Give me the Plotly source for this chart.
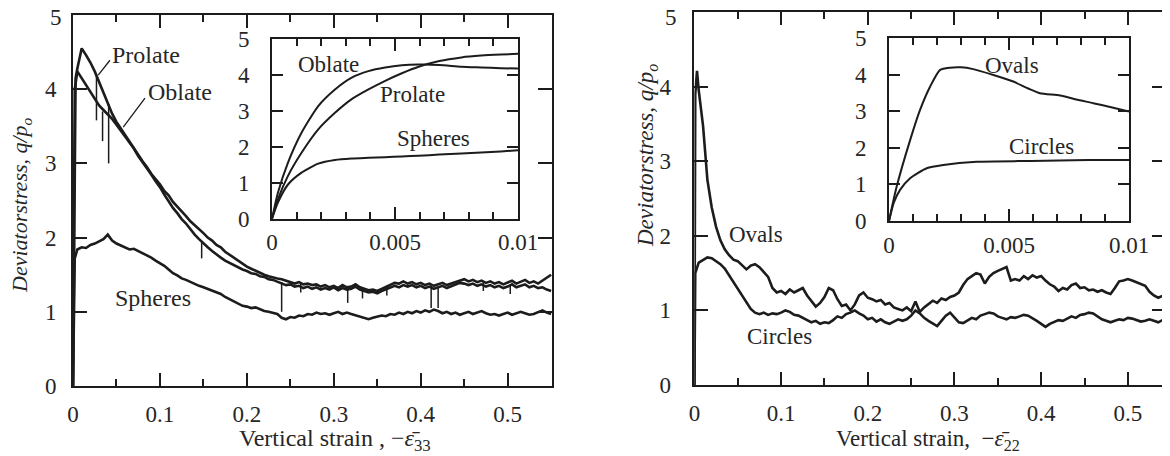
import plotly.graph_objects as go

# ---------------- LEFT PANEL : 3-D assemblies (main plot) ----------------
STRAIN_L = [round(0.005 * i, 3) for i in range(1, 111)]

PROLATE_HEAD_X = [0.0, 0.003]
PROLATE_HEAD_Y = [0.0, 4.15]
PROLATE_Y = [
    4.28, 4.55, 4.46, 4.36, 4.24, 4.10, 3.95, 3.80, 3.67, 3.56,
    3.47, 3.38, 3.30, 3.20, 3.12, 3.03, 2.95, 2.86, 2.79, 2.72,
    2.63, 2.57, 2.48, 2.42, 2.35, 2.29, 2.22, 2.17, 2.11, 2.06,
    2.00, 1.96, 1.90, 1.87, 1.81, 1.77, 1.72, 1.69, 1.65, 1.61,
    1.58, 1.55, 1.53, 1.50, 1.48, 1.46, 1.45, 1.44, 1.42, 1.41,
    1.38, 1.40, 1.37, 1.38, 1.36, 1.37, 1.34, 1.36, 1.33, 1.35,
    1.32, 1.36, 1.33, 1.34, 1.37, 1.33, 1.31, 1.29, 1.30, 1.28,
    1.31, 1.34, 1.36, 1.39, 1.38, 1.41, 1.38, 1.40, 1.37, 1.39,
    1.36, 1.38, 1.35, 1.37, 1.39, 1.36, 1.38, 1.41, 1.43, 1.44,
    1.41, 1.43, 1.40, 1.42, 1.39, 1.41, 1.38, 1.40, 1.37, 1.39,
    1.42, 1.38, 1.40, 1.43, 1.39, 1.41, 1.38, 1.42, 1.46, 1.50,
]
# sharp downward drops (strain, value before drop, lowest value)
PROLATE_SPIKE_X = [0.027, 0.041, 0.262, 0.316, 0.361, 0.412, 0.472]
PROLATE_SPIKE_TOP = [4.19, 3.80, 1.39, 1.34, 1.35, 1.37, 1.41]
PROLATE_SPIKE_LOW = [3.58, 3.00, 1.26, 1.12, 1.22, 1.05, 1.28]

OBLATE_HEAD_X = [0.0, 0.002]
OBLATE_HEAD_Y = [0.0, 4.0]
OBLATE_Y = [
    4.24, 4.15, 4.05, 3.96, 3.87, 3.78, 3.72, 3.66, 3.60, 3.52,
    3.44, 3.37, 3.28, 3.20, 3.10, 3.02, 2.93, 2.85, 2.76, 2.68,
    2.58, 2.48, 2.40, 2.33, 2.25, 2.19, 2.11, 2.04, 1.98, 1.92,
    1.87, 1.82, 1.77, 1.73, 1.69, 1.66, 1.62, 1.60, 1.57, 1.55,
    1.52, 1.51, 1.48, 1.47, 1.44, 1.43, 1.41, 1.38, 1.36, 1.37,
    1.34, 1.35, 1.32, 1.34, 1.31, 1.33, 1.30, 1.32, 1.30, 1.33,
    1.29, 1.32, 1.30, 1.31, 1.34, 1.30, 1.28, 1.26, 1.27, 1.25,
    1.28, 1.30, 1.33, 1.35, 1.33, 1.36, 1.34, 1.36, 1.33, 1.35,
    1.32, 1.34, 1.31, 1.33, 1.35, 1.32, 1.34, 1.37, 1.39, 1.38,
    1.36, 1.38, 1.35, 1.37, 1.34, 1.36, 1.33, 1.35, 1.32, 1.34,
    1.37, 1.33, 1.35, 1.37, 1.33, 1.35, 1.32, 1.33, 1.30, 1.28,
]
OBLATE_SPIKE_X = [0.034, 0.148, 0.240, 0.333, 0.420, 0.503]
OBLATE_SPIKE_TOP = [3.70, 1.95, 1.40, 1.31, 1.33, 1.36]
OBLATE_SPIKE_LOW = [3.30, 1.72, 1.00, 1.18, 1.05, 1.24]

SPHERES_HEAD_X = [0.0, 0.002]
SPHERES_HEAD_Y = [0.0, 1.72]
SPHERES_Y = [
    1.84, 1.87, 1.86, 1.90, 1.92, 1.95, 1.98, 2.04, 1.96, 1.92,
    1.89, 1.86, 1.84, 1.85, 1.82, 1.80, 1.76, 1.73, 1.69, 1.66,
    1.62, 1.57, 1.52, 1.49, 1.45, 1.43, 1.40, 1.38, 1.35, 1.33,
    1.31, 1.29, 1.26, 1.24, 1.20, 1.17, 1.13, 1.10, 1.08, 1.07,
    1.05, 1.06, 1.03, 1.01, 1.00, 0.99, 0.97, 0.92, 0.90, 0.93,
    0.92, 0.95, 0.94, 0.97, 0.96, 0.99, 0.97, 0.98, 0.96, 0.98,
    1.00, 0.97, 0.99, 0.97, 0.95, 0.93, 0.92, 0.90, 0.92, 0.93,
    0.95, 0.94, 0.97, 0.96, 0.99, 0.97, 1.00, 0.98, 1.01, 0.99,
    1.02, 1.00, 1.03, 1.01, 0.98, 1.00, 0.97, 0.99, 0.96, 0.98,
    1.00, 0.97, 0.99, 1.01, 0.98, 0.96, 0.97, 0.95, 0.97, 0.99,
    0.96, 0.98, 1.00, 0.98, 0.96, 0.97, 1.00, 1.02, 0.99, 0.97,
]

# ---------------- LEFT PANEL : inset (small strains) ----------------
INSET_L_X = [0.0, 0.00024, 0.00065, 0.0012, 0.00188, 0.00256, 0.00324, 0.00392,
             0.0046, 0.00528, 0.00596, 0.0068, 0.0077, 0.0085, 0.0093, 0.01]
INSET_OBLATE_Y = [0.0, 0.72, 1.56, 2.39, 3.13, 3.59, 3.92, 4.10,
                  4.20, 4.26, 4.28, 4.27, 4.22, 4.20, 4.18, 4.17]
INSET_PROLATE_Y = [0.0, 0.54, 1.19, 1.83, 2.48, 2.94, 3.32, 3.59,
                   3.83, 4.04, 4.22, 4.38, 4.48, 4.53, 4.56, 4.58]
INSET_SPHERES_Y = [0.0, 0.45, 0.95, 1.28, 1.53, 1.63, 1.67, 1.69,
                   1.71, 1.73, 1.75, 1.78, 1.81, 1.84, 1.87, 1.90]

# ---------------- RIGHT PANEL : 2-D assemblies (main plot) ----------------
STRAIN_R = [round(0.005 * i, 3) for i in range(1, 110)]

OVALS_HEAD_X = [0.0, 0.001, 0.003]
OVALS_HEAD_Y = [0.0, 3.9, 4.21]
OVALS_Y = [
    3.95, 3.47, 2.75, 2.38, 2.12, 1.94, 1.82, 1.74, 1.68, 1.66,
    1.60, 1.55, 1.60, 1.62, 1.58, 1.52, 1.45, 1.30, 1.24, 1.26,
    1.22, 1.28, 1.24, 1.27, 1.30, 1.20, 1.12, 1.05, 1.10, 1.18,
    1.30, 1.27, 1.15, 1.06, 1.08, 1.00, 1.08, 1.20, 1.24, 1.17,
    1.15, 1.12, 1.14, 1.08, 1.10, 1.04, 1.02, 1.00, 1.04, 0.99,
    1.12, 0.98, 1.04, 1.08, 1.13, 1.10, 1.16, 1.14, 1.18, 1.20,
    1.24, 1.34, 1.42, 1.46, 1.50, 1.48, 1.36, 1.45, 1.50, 1.53,
    1.55, 1.58, 1.40, 1.42, 1.40, 1.46, 1.42, 1.47, 1.44, 1.46,
    1.40, 1.35, 1.32, 1.26, 1.30, 1.28, 1.34, 1.36, 1.30, 1.31,
    1.27, 1.28, 1.25, 1.27, 1.24, 1.22, 1.30, 1.39, 1.40, 1.42,
    1.40, 1.38, 1.35, 1.33, 1.25, 1.20, 1.17, 1.20, 1.22,
]

CIRCLES_HEAD_X = [0.0, 0.001]
CIRCLES_HEAD_Y = [0.0, 1.5]
CIRCLES_Y = [
    1.64, 1.68, 1.71, 1.70, 1.66, 1.62, 1.56, 1.47, 1.38, 1.28,
    1.20, 1.10, 1.02, 0.97, 0.95, 0.97, 0.94, 0.96, 0.95, 0.97,
    1.00, 0.98, 0.94, 0.93, 0.90, 0.86, 0.84, 0.86, 0.82, 0.84,
    0.83, 0.87, 0.92, 0.90, 0.95, 0.97, 1.00, 0.96, 0.93, 0.88,
    0.90, 0.85, 0.88, 0.84, 0.82, 0.85, 0.88, 0.86, 0.88, 0.93,
    1.00, 0.96, 0.90, 0.86, 0.82, 0.79, 0.86, 0.93, 0.97, 0.90,
    0.84, 0.83, 0.87, 0.90, 0.88, 0.93, 0.95, 0.97, 0.96, 0.92,
    0.90, 0.88, 0.91, 0.90, 0.92, 0.94, 0.93, 0.90, 0.86, 0.82,
    0.78, 0.82, 0.85, 0.87, 0.86, 0.89, 0.92, 0.90, 0.94, 0.95,
    0.97, 0.96, 0.92, 0.88, 0.86, 0.84, 0.86, 0.88, 0.87, 0.90,
    0.89, 0.87, 0.85, 0.86, 0.88, 0.86, 0.84, 0.87, 0.90,
]

# ---------------- RIGHT PANEL : inset ----------------
INSET_OVALS_X = [0.0, 0.00032, 0.00088, 0.00129, 0.00171, 0.00213, 0.00254, 0.003,
                 0.00351, 0.00435, 0.00518, 0.0058, 0.00629, 0.00713, 0.0078,
                 0.00851, 0.0093, 0.01]
INSET_OVALS_Y = [0.0, 0.94, 2.21, 3.03, 3.67, 4.13, 4.19, 4.20,
                 4.15, 3.99, 3.81, 3.62, 3.49, 3.43, 3.32, 3.22, 3.10, 2.99]
INSET_CIRCLES_X = [0.0, 0.0002, 0.00046, 0.00088, 0.00157, 0.00226, 0.00365,
                   0.0059, 0.0083, 0.01]
INSET_CIRCLES_Y = [0.0, 0.5, 0.85, 1.17, 1.44, 1.53, 1.62, 1.64, 1.67, 1.67]

assert len(PROLATE_Y) == len(STRAIN_L) == len(OBLATE_Y) == len(SPHERES_Y)
assert len(OVALS_Y) == len(STRAIN_R) == len(CIRCLES_Y)

W, H = 1170, 456
OFF = 8  # the page body adds an 8 px margin around the figure
FONT = "Liberation Serif, Times New Roman, Times, serif"
INK = "#1c1c1c"
TXT = "#262626"


def px_x(v):
    return (v - OFF) / W


def px_y(v):
    return 1 - (v - OFF) / H


def series(hx, hy, gx, gy):
    return list(hx) + list(gx), list(hy) + list(gy)


fig = go.Figure()


def add_line(x, y, xa, ya, width, spline=False):
    fig.add_trace(go.Scatter(
        x=x, y=y, xaxis=xa, yaxis=ya, mode="lines",
        line=dict(color=INK, width=width,
                  shape="spline" if spline else "linear", smoothing=0.6),
        showlegend=False, hoverinfo="skip", connectgaps=False))


def add_spikes(sx, top, low, xa, ya):
    xs, ys = [], []
    for a, t, b in zip(sx, top, low):
        xs += [a, a, None]
        ys += [t, b, None]
    add_line(xs, ys, xa, ya, 1.5)


# left main
for hx, hy, gy in [(PROLATE_HEAD_X, PROLATE_HEAD_Y, PROLATE_Y),
                   (OBLATE_HEAD_X, OBLATE_HEAD_Y, OBLATE_Y),
                   (SPHERES_HEAD_X, SPHERES_HEAD_Y, SPHERES_Y)]:
    xx, yy = series(hx, hy, STRAIN_L, gy)
    add_line(xx, yy, "x", "y", 2.6)
add_spikes(PROLATE_SPIKE_X, PROLATE_SPIKE_TOP, PROLATE_SPIKE_LOW, "x", "y")
add_spikes(OBLATE_SPIKE_X, OBLATE_SPIKE_TOP, OBLATE_SPIKE_LOW, "x", "y")

# left inset
for yy in [INSET_OBLATE_Y, INSET_PROLATE_Y, INSET_SPHERES_Y]:
    add_line(INSET_L_X, yy, "x2", "y2", 2.0, spline=True)

# right main
for hx, hy, gy in [(OVALS_HEAD_X, OVALS_HEAD_Y, OVALS_Y),
                   (CIRCLES_HEAD_X, CIRCLES_HEAD_Y, CIRCLES_Y)]:
    xx, yy = series(hx, hy, STRAIN_R, gy)
    add_line(xx, yy, "x3", "y3", 2.6)

# right inset
add_line(INSET_OVALS_X, INSET_OVALS_Y, "x4", "y4", 2.0, spline=True)
add_line(INSET_CIRCLES_X, INSET_CIRCLES_Y, "x4", "y4", 2.0, spline=True)

tickfont = dict(family=FONT, size=23, color=TXT)


def xax(dom, anchor, rng, tickvals, ticktext, minor_dtick, ticklen, minor_len, standoff):
    return dict(domain=[px_x(dom[0]), px_x(dom[1])], anchor=anchor, range=rng,
                tickmode="array", tickvals=tickvals, ticktext=ticktext,
                ticks="inside", ticklen=ticklen, tickwidth=1.8, tickcolor=INK,
                minor=dict(dtick=minor_dtick, tick0=0, ticks="inside", ticklen=minor_len,
                           tickwidth=1.6, tickcolor=INK, showgrid=False),
                showline=True, linewidth=1.8, linecolor=INK, mirror="ticks",
                showgrid=False, zeroline=False, tickfont=tickfont, automargin=False,
                ticklabelstandoff=standoff, ticklabeloverflow="allow", fixedrange=True)


def yax(dom, anchor, ticklen, standoff, ticktext):
    return dict(domain=[px_y(dom[1]), px_y(dom[0])], anchor=anchor, range=[0, 5],
                tickmode="array", tickvals=[0, 1, 2, 3, 4, 5], ticktext=ticktext,
                ticks="inside", ticklen=ticklen, tickwidth=1.8, tickcolor=INK,
                showline=True, linewidth=1.8, linecolor=INK, mirror="ticks",
                showgrid=False, zeroline=False, tickfont=tickfont, automargin=False,
                ticklabelstandoff=standoff, ticklabeloverflow="allow", fixedrange=True)


MAIN_TV = [0, 0.1, 0.2, 0.3, 0.4, 0.5]
MAIN_TT = ["0", "0.1", "0.2", "0.3", "0.4", "0.5"]
INS_TV = [0, 0.005, 0.01]
INS_TT = ["0", "0.005", "0.01"]
Y_TT = ["0", "1", "2", "3", "4", "5"]
Y_TT_MAIN = ["0", "1", "2", "3", "4", ""]   # top "5" placed just below the page edge

fig.update_layout(
    width=W, height=H,
    margin=dict(l=0, r=0, t=0, b=0, autoexpand=False),
    paper_bgcolor="white", plot_bgcolor="white",
    xaxis=xax((73, 552), "y", [0, 0.551], MAIN_TV, MAIN_TT, 0.05, 13, 7, 6),
    yaxis=yax((15, 386), "x", 14, 10, Y_TT_MAIN),
    xaxis2=xax((272, 518), "y2", [0, 0.01], INS_TV, INS_TT, 0.001, 12, 7, 2),
    yaxis2=yax((38.7, 218.7), "x2", 11, 16, Y_TT),
    xaxis3=xax((694.4, 1166), "y3", [0, 0.544], MAIN_TV, MAIN_TT, 0.05, 13, 7, 6),
    yaxis3=yax((12, 385), "x3", 14, 17, Y_TT_MAIN),
    xaxis4=xax((889, 1129), "y4", [0, 0.01], INS_TV, INS_TT, 0.001, 12, 7, 2),
    yaxis4=yax((38, 221), "x4", 11, 16, Y_TT),
)

ann = []


def text(x, y, s, xref, yref, size=23, angle=0, xanchor="center"):
    ann.append(dict(x=x, y=y, xref=xref, yref=yref, text=s, showarrow=False,
                    textangle=angle, xanchor=xanchor, yanchor="middle",
                    font=dict(family=FONT, size=size, color=TXT)))


# top "5" labels of the two main plots
text(px_x(64), px_y(17), "5", "paper", "paper", 23, xanchor="right")
text(px_x(679), px_y(17), "5", "paper", "paper", 23, xanchor="right")

# curve labels
text(0.0839, 4.46, "Prolate", "x", "y", 24)
text(0.123, 3.96, "Oblate", "x", "y", 24)
text(0.092, 1.19, "Spheres", "x", "y", 24)
text(0.00229, 4.27, "Oblate", "x2", "y2", 23)
text(0.0057, 3.44, "Prolate", "x2", "y2", 23)
text(0.00657, 2.24, "Spheres", "x2", "y2", 23)
text(0.071, 2.02, "Ovals", "x3", "y3", 23)
text(0.0987, 0.645, "Circles", "x3", "y3", 23)
text(0.00511, 4.26, "Ovals", "x4", "y4", 23)
text(0.00636, 2.03, "Circles", "x4", "y4", 23)

# axis titles
text(px_x(335), px_y(440), "Vertical strain , −<i>ε̄</i><sub>33</sub>", "paper", "paper", 24)
text(px_x(928), px_y(440), "Vertical strain,  −<i>ε̄</i><sub>22</sub>", "paper", "paper", 23)
text(px_x(21), px_y(205), "<i>Deviatorstress, q/p<sub>o</sub></i>", "paper", "paper", 22, -90)
text(px_x(647), px_y(155), "<i>Deviatorstress, q/p<sub>o</sub></i>", "paper", "paper", 23, -90)

fig.update_layout(annotations=ann)

# leader lines from labels to curves
fig.add_shape(type="line", xref="x", yref="y", x0=0.029, y0=4.19, x1=0.0425, y1=4.39,
              line=dict(color=INK, width=1.3))
fig.add_shape(type="line", xref="x", yref="y", x0=0.0578, y0=3.49, x1=0.0828, y1=3.88,
              line=dict(color=INK, width=1.3))

fig.write_html("out.html")
